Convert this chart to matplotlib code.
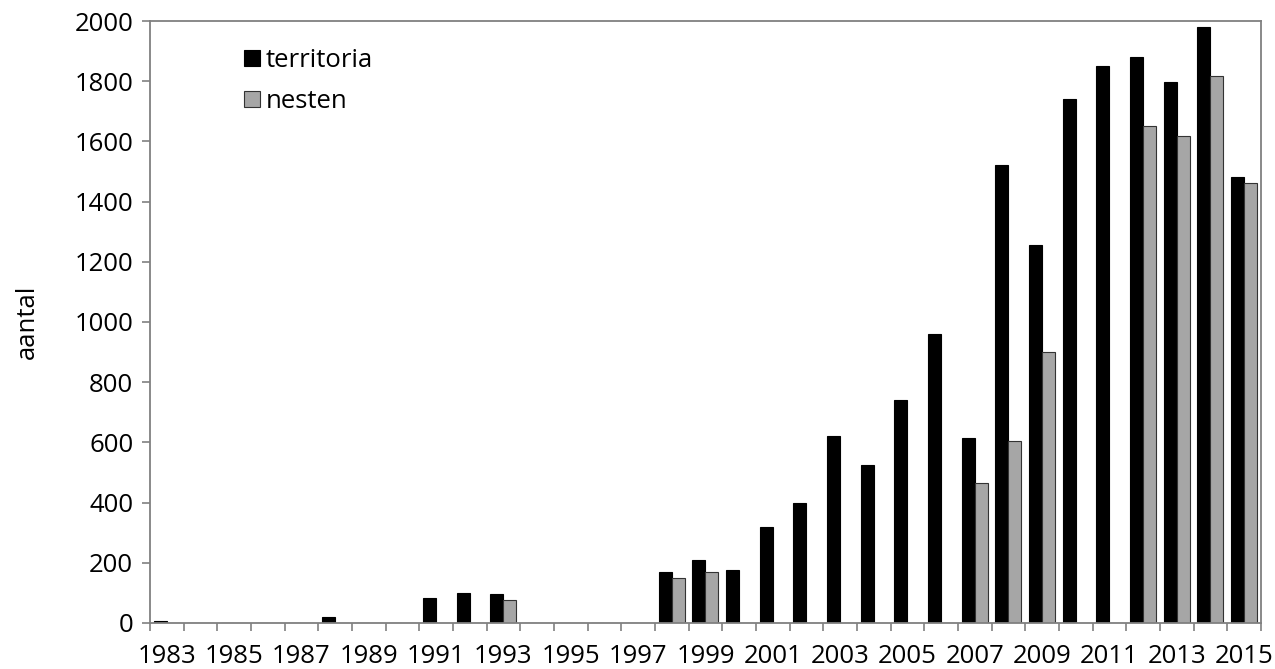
import matplotlib
matplotlib.use("Agg")
import matplotlib.pyplot as plt
import numpy as np

years = list(range(1983, 2016))
territoria = [7, 0, 0, 0, 0, 21, 0, 0, 82, 100, 95, 0, 0, 0, 0, 171, 210, 177,
              320, 400, 620, 525, 740, 960, 615, 1522, 1255, 1742, 1852, 1880, 1797, 1980, 1482]
nesten = [0, 0, 0, 0, 0, 0, 0, 0, 0, 0, 75, 0, 0, 0, 0, 150, 171, 0,
          0, 0, 0, 0, 0, 0, 465, 605, 900, 0, 0, 1652, 1617, 1818, 1462]
series_names = ["territoria", "nesten"]
colors = ["#000000", "#a6a6a6"]
yticks = list(range(0, 2001, 200))

plt.rcParams['font.family'] = ['Open Sans', 'DejaVu Sans']
FS = 18.5

fig = plt.figure(figsize=(12.75, 6.69), dpi=100)
ax = fig.add_axes([0.1176, 0.0688, 0.989 - 0.1176, 0.9686 - 0.0688])

n = len(years)
x = np.arange(n)
w = 0.386
ax.bar(x - w / 2, territoria, width=w, color=colors[0], edgecolor="#000000",
       linewidth=0.8, label=series_names[0])
ax.bar(x + w / 2, nesten, width=w, color=colors[1], edgecolor="#333333",
       linewidth=0.8, label=series_names[1])

ax.set_xlim(-0.5, n - 0.5)
ax.set_ylim(0, 2000)
ax.set_yticks(yticks)
ax.set_yticklabels([str(v) for v in yticks])

ax.set_xticks(np.arange(n + 1) - 0.5)
ax.set_xticklabels([])
ax.set_xticks(x[::2], minor=True)
ax.set_xticklabels([str(y) for y in years[::2]], minor=True)
ax.tick_params(axis='x', which='minor', length=0, pad=15, labelsize=FS)
ax.tick_params(axis='x', which='major', length=6, width=1.2, color="#808080", direction='out')
ax.tick_params(axis='y', length=6, width=1.2, color="#808080", direction='out', pad=6, labelsize=FS)

for s in ax.spines.values():
    s.set_color("#808080")
    s.set_linewidth(1.3)

ax.set_ylabel("aantal", fontsize=FS, labelpad=25)

leg = ax.legend(loc='upper left', bbox_to_anchor=(0.064, 0.993), frameon=False,
                fontsize=FS, handlelength=0.6, handleheight=0.6, handletextpad=0.25,
                labelspacing=0.6)

fig.savefig("out.png", dpi=100)
